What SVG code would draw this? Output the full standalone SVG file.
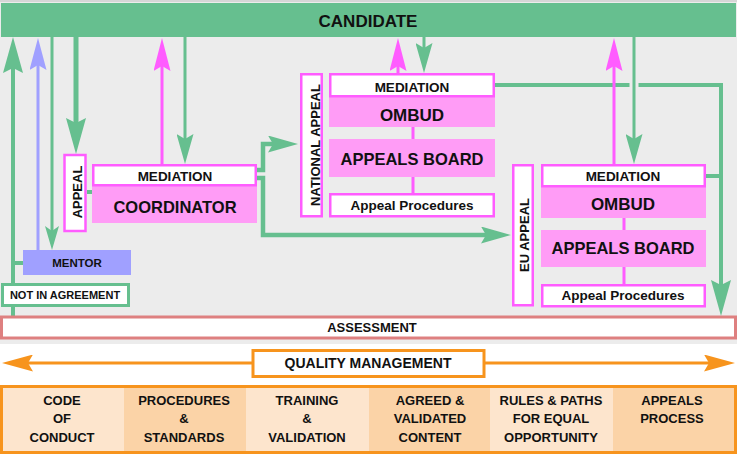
<svg xmlns="http://www.w3.org/2000/svg" width="737" height="456" viewBox="0 0 737 456">
<style>
text{font-family:"Liberation Sans",Arial,sans-serif;font-weight:bold;fill:#111;text-anchor:middle}
.pk{fill:#ff9cf6}
.wb{fill:#fff;stroke:#ff5cff;stroke-width:2.5}
.ln{fill:none}
.g{stroke:#66bf8f}
.m{stroke:#ff5cff}
.b{stroke:#a0a0ff}
.o{stroke:#f7941d}
.lc{fill:#fde5cd}
.dc{fill:#fbd3a7}
</style>
<defs>
<marker id="gL" markerUnits="userSpaceOnUse" viewBox="0 0 36 20" refX="5" refY="10" markerWidth="36" markerHeight="20" orient="auto"><path d="M0,0L36,10L0,20L5,10z" fill="#66bf8f"/></marker>
<marker id="gM" markerUnits="userSpaceOnUse" viewBox="0 0 30 17" refX="5" refY="8.5" markerWidth="30" markerHeight="17" orient="auto"><path d="M0,0L30,8.5L0,17L5,8.5z" fill="#66bf8f"/></marker>
<marker id="gS" markerUnits="userSpaceOnUse" viewBox="0 0 24 14" refX="5" refY="7" markerWidth="24" markerHeight="14" orient="auto"><path d="M0,0L24,7L0,14L5,7z" fill="#66bf8f"/></marker>
<marker id="mA" markerUnits="userSpaceOnUse" viewBox="0 0 33 17" refX="5" refY="8.5" markerWidth="33" markerHeight="17" orient="auto"><path d="M0,0L33,8.5L0,17L5,8.5z" fill="#ff5cff"/></marker>
<marker id="bA" markerUnits="userSpaceOnUse" viewBox="0 0 32 17" refX="5" refY="8.5" markerWidth="32" markerHeight="17" orient="auto"><path d="M0,0L32,8.5L0,17L5,8.5z" fill="#a0a0ff"/></marker>
<marker id="oA" markerUnits="userSpaceOnUse" viewBox="0 0 31 17" refX="5" refY="8.5" markerWidth="31" markerHeight="17" orient="auto-start-reverse"><path d="M0,0L31,8.5L0,17L5,8.5z" fill="#f7941d"/></marker>
</defs>
<rect x="0" y="0" width="737" height="344" fill="#ececec"/>
<rect x="0" y="0" width="737" height="2" fill="#d6d6d6"/>

<g id="connectors">
<line class="ln g" x1="13" y1="316" x2="13" y2="68" stroke-width="4" marker-end="url(#gL)"/>
<line class="ln g" x1="13" y1="263" x2="23" y2="263" stroke-width="4"/>
<line class="ln b" x1="38" y1="250" x2="38" y2="65" stroke-width="3" marker-end="url(#bA)"/>
<line class="ln g" x1="52" y1="37" x2="52" y2="231" stroke-width="3" marker-end="url(#gS)"/>
<line class="ln g" x1="76" y1="37" x2="76" y2="123" stroke-width="5" marker-end="url(#gL)"/>
<line class="ln m" x1="162" y1="164" x2="162" y2="66" stroke-width="3" marker-end="url(#mA)"/>
<line class="ln g" x1="185" y1="37" x2="185" y2="139" stroke-width="3" marker-end="url(#gM)"/>
<line class="ln g" x1="87" y1="192" x2="92" y2="192" stroke-width="4"/>
<path class="ln g" d="M257,170H263V144H273" stroke-width="4.5" marker-end="url(#gM)"/>
<path class="ln g" d="M257,178H263V235H486" stroke-width="4.5" marker-end="url(#gM)"/>
<line class="ln m" x1="398" y1="73" x2="398" y2="66" stroke-width="3" marker-end="url(#mA)"/>
<line class="ln g" x1="424" y1="37" x2="424" y2="48" stroke-width="3" marker-end="url(#gM)"/>
<path class="ln g" d="M495,85H721V285" stroke-width="4" marker-end="url(#gL)"/>
<line class="ln g" x1="706" y1="176" x2="721" y2="176" stroke-width="4"/>
<line x1="634" y1="80" x2="634" y2="90" stroke="#ececec" stroke-width="9"/>
<line class="ln g" x1="634" y1="37" x2="634" y2="139" stroke-width="3" marker-end="url(#gM)"/>
<line class="ln m" x1="614" y1="164" x2="614" y2="66" stroke-width="3" marker-end="url(#mA)"/>
<line class="ln m" x1="413" y1="127" x2="413" y2="139" stroke-width="3"/>
<line class="ln m" x1="413" y1="177" x2="413" y2="193" stroke-width="3"/>
<line class="ln m" x1="624" y1="218" x2="624" y2="230" stroke-width="3"/>
<line class="ln m" x1="624" y1="267" x2="624" y2="284" stroke-width="3"/>
<line class="ln o" x1="28" y1="363" x2="709" y2="363" stroke-width="3" marker-start="url(#oA)" marker-end="url(#oA)"/>
</g>

<g id="candidate">
<rect x="1" y="3" width="735" height="34" fill="#66bf8f"/>
<text x="368" y="27" font-size="17">CANDIDATE</text>
</g>

<g id="appeal">
<rect class="wb" x="64.5" y="155" width="21" height="76"/>
<text transform="translate(82,192) rotate(-90)" font-size="13">APPEAL</text>
</g>

<g id="coordinator">
<rect class="pk" x="92" y="164" width="165" height="59"/>
<rect class="wb" x="93.25" y="165.25" width="162.5" height="20"/>
<text x="175" y="181" font-size="13.5">MEDIATION</text>
<text x="175" y="213" font-size="16.5">COORDINATOR</text>
</g>

<g id="mentor">
<rect x="23" y="250" width="108" height="25" fill="#a0a0ff"/>
<text x="77" y="267" font-size="11.5">MENTOR</text>
</g>

<g id="not-in-agreement">
<rect x="2.5" y="284.5" width="126" height="21" fill="#fff" stroke="#66bf8f" stroke-width="3"/>
<text x="65" y="299" font-size="11">NOT IN AGREEMENT</text>
</g>

<g id="national-appeal">
<rect class="wb" x="301.25" y="74.25" width="20.5" height="142"/>
<text transform="translate(320,145) rotate(-90)" font-size="13">NATIONAL APPEAL</text>
</g>

<g id="national-ombud">
<rect class="pk" x="329" y="73" width="166" height="54"/>
<rect class="wb" x="330.25" y="74.25" width="163.5" height="22"/>
<text x="412" y="92" font-size="13.5">MEDIATION</text>
<text x="412" y="121" font-size="17">OMBUD</text>
</g>
<g id="national-board">
<rect class="pk" x="329" y="139" width="166" height="38"/>
<text x="412" y="165" font-size="16.5">APPEALS BOARD</text>
</g>
<g id="national-procedures">
<rect class="wb" x="330.25" y="194.25" width="163.5" height="22"/>
<text x="412" y="210" font-size="13.5">Appeal Procedures</text>
</g>

<g id="eu-appeal">
<rect class="wb" x="513.25" y="165.25" width="19.5" height="140"/>
<text transform="translate(529,235) rotate(-90)" font-size="13">EU APPEAL</text>
</g>

<g id="eu-ombud">
<rect class="pk" x="541" y="164" width="165" height="54"/>
<rect class="wb" x="542.25" y="165.25" width="162.5" height="21"/>
<text x="623" y="181" font-size="13.5">MEDIATION</text>
<text x="623" y="210" font-size="17">OMBUD</text>
</g>
<g id="eu-board">
<rect class="pk" x="541" y="230" width="165" height="37"/>
<text x="623" y="254" font-size="16.5">APPEALS BOARD</text>
</g>
<g id="eu-procedures">
<rect class="wb" x="542.25" y="285.25" width="162.5" height="21"/>
<text x="623" y="300" font-size="13.5">Appeal Procedures</text>
</g>

<g id="assessment">
<rect x="1.5" y="317" width="734" height="21" fill="#fff" stroke="#de8080" stroke-width="3"/>
<text x="372" y="332" font-size="13">ASSESSMENT</text>
</g>

<g id="quality-management">
<rect x="253" y="350.5" width="231" height="26" fill="#fff" stroke="#f7941d" stroke-width="3"/>
<text x="368" y="368" font-size="14">QUALITY MANAGEMENT</text>
</g>

<g id="pillars">
<rect class="lc" x="3" y="388" width="121" height="64"/>
<rect class="dc" x="124" y="388" width="122" height="64"/>
<rect class="lc" x="246" y="388" width="123" height="64"/>
<rect class="dc" x="369" y="388" width="121" height="64"/>
<rect class="lc" x="490" y="388" width="123" height="64"/>
<rect class="dc" x="613" y="388" width="121" height="64"/>
<rect x="1.5" y="386.5" width="734" height="66" fill="none" stroke="#f7941d" stroke-width="3"/>
<g font-size="13">
<text x="62" y="405">CODE</text><text x="62" y="423">OF</text><text x="62" y="442">CONDUCT</text>
<text x="184" y="405">PROCEDURES</text><text x="184" y="423">&amp;</text><text x="184" y="442">STANDARDS</text>
<text x="307" y="405">TRAINING</text><text x="307" y="423">&amp;</text><text x="307" y="442">VALIDATION</text>
<text x="430" y="405">AGREED &amp;</text><text x="430" y="423">VALIDATED</text><text x="430" y="442">CONTENT</text>
<text x="551" y="405">RULES &amp; PATHS</text><text x="551" y="423">FOR EQUAL</text><text x="551" y="442">OPPORTUNITY</text>
<text x="672" y="405">APPEALS</text><text x="672" y="423">PROCESS</text>
</g>
</g>
</svg>
